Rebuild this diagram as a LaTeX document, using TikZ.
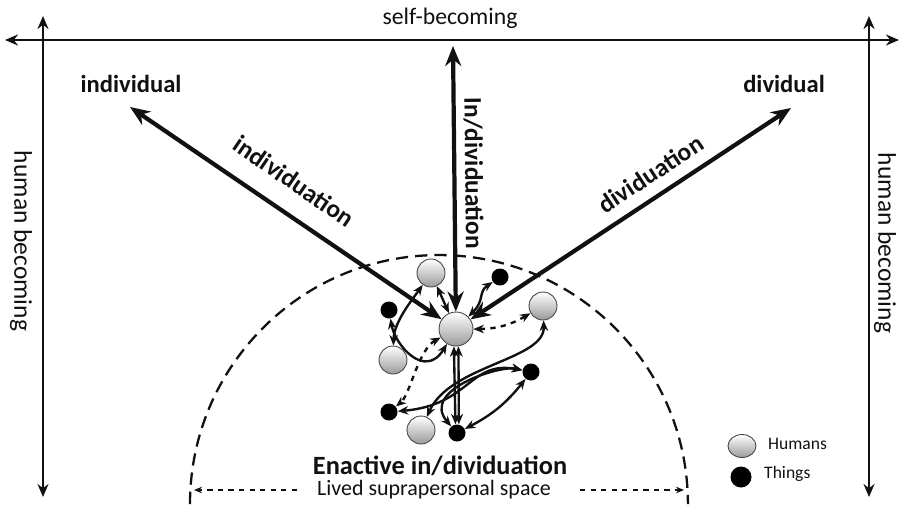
\documentclass[tikz,border=0pt]{standalone}
\usepackage{fontspec}
\setmainfont{Carlito}
\usetikzlibrary{arrows.meta,shapes.geometric}
\definecolor{ink}{HTML}{111111}
\definecolor{orb}{HTML}{9A9A9A}

\begin{document}
\begin{tikzpicture}[x=0.02cm,y=-0.02cm,ink,
  axis/.style={line width=1.3pt,{Stealth[length=2.6mm,width=2.2mm]}-{Stealth[length=2.6mm,width=2.2mm]}},
  ray/.style={line width=2.4pt,{Stealth[length=4mm,width=3.2mm]}-{Stealth[length=4mm,width=3.2mm]}},
  link/.style={line width=1.35pt,{Stealth[length=2.1mm,width=1.7mm]}-{Stealth[length=2.1mm,width=1.7mm]}},
  human/.style={circle,draw=gray!55!black,line width=0.5pt,top color=white,bottom color=orb,minimum size=0.56cm,inner sep=0pt},
  thing/.style={circle,fill=black,minimum size=0.34cm,inner sep=0pt},
  pole/.style={font=\fontsize{14}{16}\selectfont\bfseries},
  side/.style={font=\fontsize{14.5}{16}\selectfont,rotate=-90},
  rlabel/.style={font=\fontsize{14.5}{16}\selectfont\bfseries,sloped}]
\useasboundingbox (0,0) rectangle (902,504);

% frame of the two becomings
\coordinate (axL) at (5,40);
\coordinate (axR) at (899,40);
\coordinate (lTop) at (43,16);
\coordinate (lBot) at (43,497);
\coordinate (rTop) at (869,16);
\coordinate (rBot) at (869,497);
\draw[axis] (axL) -- (axR);
\draw[axis] (lTop) -- (lBot);
\draw[axis] (rTop) -- (rBot);
\node[font=\fontsize{13.5}{15}\selectfont] (self) at (450,18) {self-becoming};
\node[side] (hbL) at (21,241) {human becoming};
\node[side] (hbR) at (885,243) {human becoming};

% lived space
\draw[dashed,line width=1.3pt,dash pattern=on 7pt off 4pt] (190,504) arc[start angle=180,end angle=0,x radius=4.98cm,y radius=4.98cm];

% humans and things
\node[human,minimum size=0.68cm] (cen) at (456,329) {};
\node[human] (hA) at (431,273) {};
\node[thing] (tA) at (500,277) {};
\node[human] (hB) at (543,306) {};
\node[thing] (tB) at (389,310) {};
\node[human] (hC) at (393,360) {};
\node[thing] (tC) at (531,372) {};
\node[thing] (tD) at (389,412) {};
\node[human] (hD) at (421,430) {};
\node[thing] (tE) at (457,433) {};

% poles
\node[pole] (indiv) at (131,84) {individual};
\node[pole] (divid) at (784,84) {dividual};
\coordinate (iEnd) at (130,107);
\coordinate (dEnd) at (791,108);
\coordinate (sEnd) at (453,46);
\draw[ray] (iEnd) -- node[rlabel,above=8pt,pos=0.47] {individuation} (cen);
\draw[ray] (cen) -- node[rlabel,above=1pt,pos=0.52] {In/dividuation} (sEnd);
\draw[ray] (cen) -- node[rlabel,above=3pt,pos=0.6] {dividuation} (dEnd);

% enactive links
\draw[link] (hA) -- (cen);
\draw[link] (tA) .. controls (478,292) and (485,300) .. (cen);
\draw[link,dashed] (hB) to[bend left=15] (cen);
\draw[link] (hA) .. controls (412,300) and (394,322) .. (hC);
\draw[link] (tB) .. controls (395,345) and (425,380) .. (cen);
\draw[link,dashed] (cen) .. controls (418,350) and (410,395) .. (tD);
\draw[link] (cen.-97) -- (tE.100);
\draw[link] (cen.-82) -- (tE.78);
\draw[link] (hB) .. controls (545,360) and (450,365) .. (hD);
\draw[link] (tC) .. controls (470,360) and (470,405) .. (tD);
\draw[link] (tC) .. controls (500,365) and (420,390) .. (tE);
\draw[link] (tC) to[bend left=12] (tE);

% captions
\node[font=\fontsize{15}{17}\selectfont\bfseries] (enact) at (440,466) {Enactive in/dividuation};
\node[font=\fontsize{12.5}{14}\selectfont] (lived) at (434,490) {Lived suprapersonal space};
\coordinate (spL) at (194,490);
\coordinate (spR) at (684,490);
\draw[dashed,line width=0.8pt,-{Stealth[length=1.6mm,width=1.3mm]}] (297,490) -- (spL);
\draw[dashed,line width=0.8pt,-{Stealth[length=1.6mm,width=1.3mm]}] (580,490) -- (spR);

% legend
\node[human,ellipse,minimum width=0.56cm,minimum height=0.46cm] (legH) at (742,446) {};
\node[thing,minimum size=0.42cm] (legT) at (741,477) {};
\node[font=\fontsize{10}{12}\selectfont,anchor=west] (legHt) at (762,444) {Humans};
\node[font=\fontsize{10}{12}\selectfont,anchor=west] (legTt) at (758,474) {Things};
\end{tikzpicture}
\end{document}
